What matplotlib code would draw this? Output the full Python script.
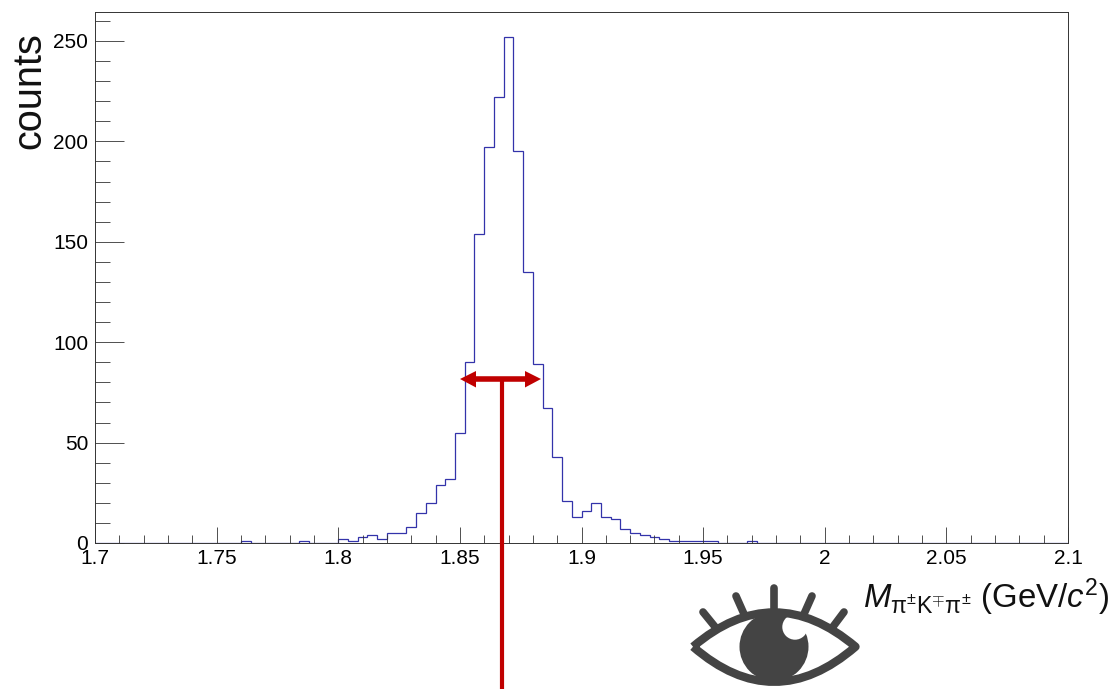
import numpy as np
import matplotlib
matplotlib.use("Agg")
import matplotlib.pyplot as plt
from matplotlib.patches import Circle, PathPatch, Polygon
from matplotlib.path import Path
from matplotlib.ticker import MultipleLocator

plt.rcParams['font.family'] = ['Liberation Sans', 'DejaVu Sans']
plt.rcParams['mathtext.fontset'] = 'custom'
plt.rcParams['mathtext.rm'] = 'Liberation Sans'
plt.rcParams['mathtext.it'] = 'Liberation Sans:italic'
plt.rcParams['mathtext.bf'] = 'Liberation Sans:bold'

# histogram contents, 100 bins between 1.7 and 2.1
counts = [0, 0, 0, 0, 0, 0, 0, 0, 0, 0,
          0, 0, 0, 0, 0, 1, 0, 0, 0, 0,
          0, 1, 0, 0, 0, 2, 1, 3, 4, 2,
          5, 5, 8, 15, 20, 29, 32, 55, 90, 154,
          197, 222, 252, 195, 135, 89, 67, 43, 21, 13,
          16, 20, 13, 12, 7, 5, 4, 3, 2, 1,
          1, 1, 1, 1, 0, 0, 0, 1, 0, 0,
          0, 0, 0, 0, 0, 0, 0, 0, 0, 0,
          0, 0, 0, 0, 0, 0, 0, 0, 0, 0,
          0, 0, 0, 0, 0, 0, 0, 0, 0, 0]
x_min = 1.7
x_max = 2.1
y_max = 264.4
x_ticks = [1.7, 1.75, 1.8, 1.85, 1.9, 1.95, 2.0, 2.05, 2.1]
x_tick_labels = ['1.7', '1.75', '1.8', '1.85', '1.9', '1.95', '2', '2.05', '2.1']

W = 1113
H = 689
edges = np.linspace(x_min, x_max, len(counts) + 1)

fig = plt.figure(figsize=(W / 100, H / 100), dpi=100)
ax = fig.add_axes([95 / W, 1 - 543 / H, (1068 - 95) / W, (543 - 12) / H])

ax.stairs(counts, edges, color='#3333aa', linewidth=0.9)
ax.set_xlim(x_min, x_max)
ax.set_ylim(0, y_max)

# ROOT style ticks, inward on left and bottom only
ax.set_xticks(x_ticks)
ax.set_xticklabels(x_tick_labels)
ax.xaxis.set_minor_locator(MultipleLocator(0.01))
ax.yaxis.set_major_locator(MultipleLocator(50))
ax.yaxis.set_minor_locator(MultipleLocator(10))
ax.tick_params(axis='x', which='major', direction='in', length=11.5, width=0.6, color='#333333', labelsize=15, pad=4.5)
ax.tick_params(axis='x', which='minor', direction='in', length=5.8, width=0.6, color='#333333')
ax.tick_params(axis='y', which='major', direction='in', length=21, width=0.6, color='#333333', labelsize=15, pad=5)
ax.tick_params(axis='y', which='minor', direction='in', length=10.5, width=0.6, color='#333333')
for s in ax.spines.values():
    s.set_linewidth(0.7)
    s.set_color('#333333')

# overlay in pixel coordinates for the drawn-on annotations
ov = fig.add_axes([0, 0, 1, 1], facecolor='none')
ov.set_xlim(0, W)
ov.set_ylim(H, 0)
ov.axis('off')

red = '#c00000'
ov.plot([502, 502], [379, 689], color=red, lw=3, solid_capstyle='butt')
ov.plot([470, 532], [379, 379], color=red, lw=4, solid_capstyle='butt')
ov.add_patch(Polygon([[460, 379], [476, 371], [476, 387.5]], closed=True, color=red, lw=0))
ov.add_patch(Polygon([[541, 379], [525, 371], [525, 387.5]], closed=True, color=red, lw=0))

# eye icon
grey = '#444444'
ov.add_patch(Circle((774, 646.7), 34.5, color=grey, lw=0))
ov.add_patch(Circle((795, 627), 12.7, color='white', lw=0))
lid = Path([(693, 646.7), (774, 578), (855.5, 646.7), (774, 717), (693, 646.7)],
           [Path.MOVETO, Path.CURVE3, Path.CURVE3, Path.CURVE3, Path.CURVE3])
ov.add_patch(PathPatch(lid, facecolor='none', edgecolor=grey, lw=6, joinstyle='round'))
lashes = [[(774, 588), (774, 610)],
          [(736, 596), (744, 614)],
          [(812, 596), (804, 614)],
          [(703, 612), (716, 628)],
          [(844, 612), (832, 628)]]
for a, b in lashes:
    ov.plot([a[0], b[0]], [a[1], b[1]], color=grey, lw=5.5, solid_capstyle='round')

# axis titles
ov.text(29, 91, 'counts', rotation=90, ha='center', va='center', fontsize=28.5, color='#111111')
ov.text(863, 597, r'$\mathit{M}_{\mathrm{π}^{\pm}\mathrm{K}^{\mp}\mathrm{π}^{\pm}}$ (GeV/$\mathit{c}^{2}$)',
        ha='left', va='center', fontsize=23.8, color='#111111')

fig.savefig('out.png', dpi=100)
